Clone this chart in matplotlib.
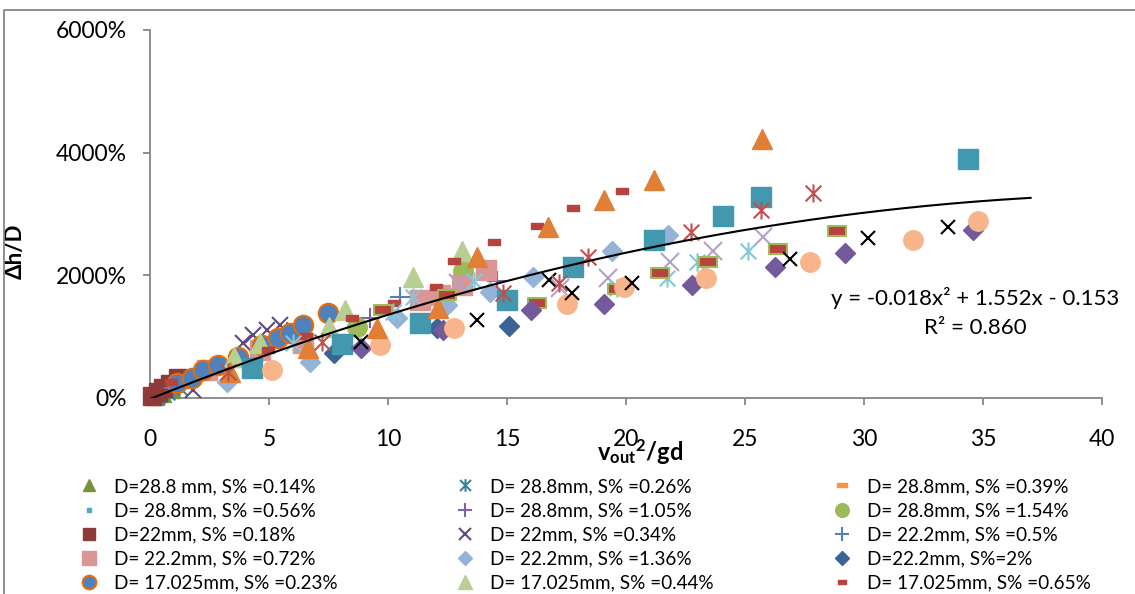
import numpy as np
import matplotlib
matplotlib.use("Agg")
import matplotlib.pyplot as plt
from matplotlib.path import Path
from matplotlib.ticker import PercentFormatter
from matplotlib.lines import Line2D

plt.rcParams['font.family'] = ['Lato', 'DejaVu Sans']
plt.rcParams['mathtext.fontset'] = 'custom'
plt.rcParams['mathtext.rm'] = 'Lato'
plt.rcParams['mathtext.bf'] = 'Lato:bold'
plt.rcParams['mathtext.it'] = 'Lato:italic'

# ---------------- data (x = v_out^2/gd, y = Δh/D as fraction) ----------------
s1_x = [0.2, 0.5, 0.9];            s1_y = [0.3, 0.8, 1.5]
s2_x = [0.3, 0.7, 1.2];            s2_y = [0.4, 1.0, 1.8]
s3_x = [0.4, 0.9];                 s3_y = [0.6, 1.4]
s4_x = [0.3, 0.6, 1.0, 1.5];       s4_y = [0.3, 0.8, 1.4, 2.1]
s5_x = [5.76, 9.24, 14.58];        s5_y = [10.8, 13.1, 19.1]
s6_x = [8.7, 13.15];               s6_y = [11.6, 20.75]
s7_x = [0.08, 0.34, 0.55, 0.84, 1.18]; s7_y = [0.33, 0.98, 1.6, 2.3, 3.3]
s8_x = [1.8, 3.9, 4.33, 4.92, 5.46]; s8_y = [1.3, 9.0, 10.3, 11.1, 11.9]
s9_x = [1.0, 10.5];                s9_y = [1.6, 16.5]
s10_x = [2.39, 4.62, 6.43, 11.34, 12.18, 13.11, 14.12]
s10_y = [4.6, 7.8, 9.0, 16.0, 16.8, 18.5, 20.9]
s11_x = [3.24, 6.72, 10.38, 12.48, 14.29, 16.09, 19.41, 21.76]
s11_y = [2.6, 5.9, 13.1, 15.2, 17.3, 19.8, 24.0, 26.6]
s12_x = [7.73, 12.06, 15.08];      s12_y = [7.35, 11.44, 11.76]
s13_x = [1.13, 1.76, 2.23, 2.86, 3.70, 4.71, 5.38, 5.88, 6.43, 7.48]
s13_y = [2.45, 3.27, 4.58, 5.39, 6.7, 8.66, 9.8, 10.6, 11.9, 13.9]
s14_x = [3.53, 4.62, 7.52, 8.19, 11.05, 13.11]
s14_y = [6.7, 9.0, 11.6, 14.4, 19.8, 23.9]
s15_x = [0.9, 4.96, 6.55, 8.49, 10.25, 12.02, 12.77, 14.45, 16.26, 17.77, 19.83]
s15_y = [2.6, 7.84, 10.1, 13.1, 15.5, 18.1, 22.4, 25.5, 28.1, 30.9, 33.8]
s16_x = [12.94, 17.23, 19.24, 21.85, 23.66, 25.76]
s16_y = [18.8, 18.0, 19.6, 22.1, 23.9, 26.3]
s17_x = [6.0, 10.21, 11.05, 13.61, 19.62, 21.72, 22.98, 25.13]
s17_y = [9.0, 14.05, 16.5, 19.1, 18.0, 19.6, 22.1, 23.9]
s18_x = [9.79, 12.48, 16.26, 19.62, 21.43, 23.45, 26.39, 28.87]
s18_y = [14.4, 16.8, 15.5, 17.8, 20.3, 22.2, 24.3, 27.3]
s19_x = [4.29, 8.07, 11.34, 15.0, 17.77, 21.18, 24.08, 25.67, 34.37]
s19_y = [4.9, 8.82, 12.25, 16.0, 21.4, 25.8, 29.6, 32.8, 38.9]
s20_x = [8.87, 12.31, 16.0, 19.08, 22.77, 26.26, 29.2, 34.58]
s20_y = [8.17, 11.1, 14.4, 15.36, 18.5, 21.4, 23.7, 27.45]
s21_x = [5.13, 9.66, 12.77, 17.52, 19.92, 23.36, 27.73, 32.06, 34.79]
s21_y = [4.58, 8.66, 11.44, 15.36, 18.1, 19.6, 22.2, 25.8, 28.8]
s22_x = [8.87, 13.74, 16.76, 17.73, 20.25, 26.9, 30.17, 33.53]
s22_y = [9.15, 12.75, 19.3, 17.2, 18.8, 22.7, 26.1, 27.9]
s23_x = [3.36, 6.64, 9.54, 12.1, 13.74, 16.72, 19.08, 21.18, 25.71]
s23_y = [4.25, 8.17, 11.44, 14.7, 23.0, 27.9, 32.35, 35.6, 42.2]
s24_x = [3.28, 7.23, 14.83, 17.18, 18.4, 22.73, 25.67, 27.86]
s24_y = [4.25, 9.15, 17.2, 18.8, 23.0, 27.1, 30.7, 33.5]

labels = [
    "D=28.8 mm, S% =0.14%", "D= 28.8mm, S% =0.26%", "D= 28.8mm, S% =0.39%",
    "D= 28.8mm, S% =0.56%", "D= 28.8mm, S% =1.05%", "D= 28.8mm, S% =1.54%",
    "D=22mm, S% =0.18%", "D= 22mm, S% =0.34%", "D= 22.2mm, S% =0.5%",
    "D= 22.2mm, S% =0.72%", "D= 22.2mm, S% =1.36%", "D=22.2mm, S%=2%",
    "D= 17.025mm, S% =0.23%", "D= 17.025mm, S% =0.44%", "D= 17.025mm, S% =0.65%",
]

trend_a, trend_b, trend_c = -0.018, 1.552, -0.153
trend_xmax = 37

# ---------------- markers ----------------
ast = Path([(-1, -1), (1, 1), (-1, 1), (1, -1), (0, -1.15), (0, 1.15)],
           [Path.MOVETO, Path.LINETO, Path.MOVETO, Path.LINETO, Path.MOVETO, Path.LINETO])
dash = Path([(-1, -0.5), (1, -0.5), (1, 0.5), (-1, 0.5), (-1, -0.5)],
            [Path.MOVETO, Path.LINETO, Path.LINETO, Path.LINETO, Path.CLOSEPOLY])

series = [
    (s1_x, s1_y, dict(marker='^', ms=13, mfc='#77933C', mec='#77933C')),
    (s2_x, s2_y, dict(marker=ast, ms=13, mfc='none', mec='#31859C', mew=1.5)),
    (s3_x, s3_y, dict(marker=dash, ms=10, mfc='#F79646', mec='#F79646')),
    (s4_x, s4_y, dict(marker='s', ms=5, mfc='#4BACC6', mec='#4BACC6')),
    (s5_x, s5_y, dict(marker='+', ms=14, mec='#8064A2', mew=1.5)),
    (s6_x, s6_y, dict(marker='o', ms=14, mfc='#9BBB59', mec='#9BBB59')),
    (s7_x, s7_y, dict(marker='s', ms=13, mfc='#8E3A38', mec='#8E3A38')),
    (s8_x, s8_y, dict(marker='x', ms=12, mec='#604A7B', mew=1.5)),
    (s9_x, s9_y, dict(marker='+', ms=14, mec='#4F81BD', mew=1.5)),
    (s10_x, s10_y, dict(marker='s', ms=14, mfc='#D99694', mec='#D99694')),
    (s11_x, s11_y, dict(marker='D', ms=10, mfc='#95B3D7', mec='#95B3D7')),
    (s12_x, s12_y, dict(marker='D', ms=10, mfc='#3B6495', mec='#3B6495')),
    (s13_x, s13_y, dict(marker='o', ms=14, mfc='#4F81BD', mec='#E46C0A', mew=1.5)),
    (s14_x, s14_y, dict(marker='^', ms=14, mfc='#B7CF92', mec='#B7CF92')),
    (s15_x, s15_y, dict(marker=dash, ms=9, mfc='#B7433F', mec='#B7433F')),
    (s16_x, s16_y, dict(marker='x', ms=13, mec='#B3A2C7', mew=1.5)),
    (s17_x, s17_y, dict(marker=ast, ms=13, mfc='none', mec='#86C6D9', mew=1.5)),
    (s18_x, s18_y, dict(marker=dash, ms=13, mfc='#B7433F', mec='#9BBB59', mew=1.5)),
    (s19_x, s19_y, dict(marker='s', ms=14, mfc='#4198AF', mec='#4198AF')),
    (s20_x, s20_y, dict(marker='D', ms=10, mfc='#725A9B', mec='#725A9B')),
    (s21_x, s21_y, dict(marker='o', ms=14, mfc='#F8B48A', mec='#F8B48A')),
    (s22_x, s22_y, dict(marker='x', ms=10, mec='black', mew=1.5)),
    (s23_x, s23_y, dict(marker='^', ms=14, mfc='#E07F35', mec='#E07F35')),
    (s24_x, s24_y, dict(marker=ast, ms=13, mfc='none', mec='#C0504D', mew=1.5)),
]

fig = plt.figure(figsize=(11.35, 5.94), dpi=100)
ax = fig.add_axes([150/1135, 1-398/594, 952/1135, 368/594])

handles = []
for i, (xs, ys, st) in enumerate(series):
    h, = ax.plot(xs, ys, linestyle='none', clip_on=False, zorder=3 + i * 0.01, **st)
    handles.append(h)

tx = np.linspace(0, trend_xmax, 300)
ax.plot(tx, trend_a * tx**2 + trend_b * tx + trend_c, color='black', lw=1.5, zorder=5)

ax.set_xlim(0, 40)
ax.set_ylim(0, 60)
ax.set_xticks(np.arange(0, 41, 5))
ax.set_yticks([0, 20, 40, 60])
ax.yaxis.set_major_formatter(PercentFormatter(xmax=1, decimals=0))
for side in ('top', 'right'):
    ax.spines[side].set_visible(False)
for side in ('left', 'bottom'):
    ax.spines[side].set_color('#868686')
    ax.spines[side].set_linewidth(1.3)
ax.tick_params(axis='both', direction='out', length=5, width=1.3, color='#868686',
               labelsize=16.5, labelcolor='black')
ax.tick_params(axis='x', pad=17)
ax.tick_params(axis='y', pad=12)

ax.set_ylabel('Δh/D', fontsize=16, fontweight='bold')
ax.yaxis.set_label_coords(-0.131, 0.40)
ax.set_xlabel(r'$\mathbf{v}_{\mathbf{out}}{}^{\mathbf{2}}\mathbf{/gd}$', fontsize=17)
ax.xaxis.set_label_coords(0.515, -0.105)

ax.text(0.8666, 0.272, 'y = -0.018x² + 1.552x - 0.153', transform=ax.transAxes,
        ha='center', va='center', fontsize=16)
ax.text(0.8666, 0.190, 'R² = 0.860', transform=ax.transAxes,
        ha='center', va='center', fontsize=16)

# legend: three columns, row-wise order
col_x = [76/1135, 452/1135, 829/1135]
for c in range(3):
    hs = [handles[r * 3 + c] for r in range(5)]
    ls = [labels[r * 3 + c] for r in range(5)]
    fig.legend(hs, ls, loc='upper left', bbox_to_anchor=(col_x[c], 1 - 478/594),
               frameon=False, fontsize=13.6, markerscale=0.7, handlelength=1.4,
               handletextpad=0.6, labelspacing=0.38, borderpad=0, borderaxespad=0)

# outer frame
fig.add_artist(Line2D([4/1135, 4/1135, 1.0], [0.0, 1 - 10/594, 1 - 10/594],
                      transform=fig.transFigure, color='#868686', lw=1.3))

fig.savefig('out.png', dpi=100)
